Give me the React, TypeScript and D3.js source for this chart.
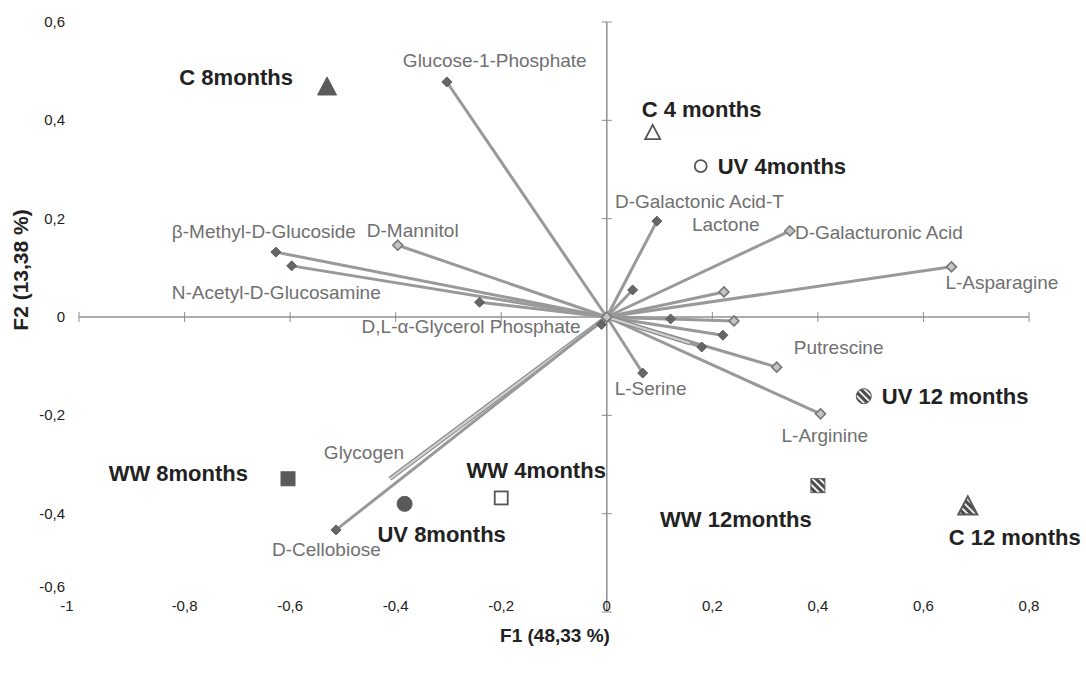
import React from "react";
import * as d3 from "d3";

// ---- data ----
const xTicks = [-1, -0.8, -0.6, -0.4, -0.2, 0, 0.2, 0.4, 0.6, 0.8];
const yTicks = [-0.6, -0.4, -0.2, 0, 0.2, 0.4, 0.6];

const varNames = [
  "Glucose-1-Phosphate",
  "β-Methyl-D-Glucoside",
  "N-Acetyl-D-Glucosamine",
  "D-Mannitol",
  "D,L-α-Glycerol Phosphate",
  "D-Galactonic Acid-T|Lactone",
  "D-Galacturonic Acid",
  "L-Asparagine",
  "Putrescine",
  "L-Arginine",
  "L-Serine",
  "Glycogen",
  "D-Cellobiose",
  "", "", "", "", "", "", "", "", "",
];
const varF1 = [-0.303, -0.627, -0.597, -0.396, -0.241, 0.095, 0.347, 0.653, 0.322, 0.405, 0.068, -0.411, -0.513, 0.049, 0.222, 0.121, 0.241, 0.22, 0.18, 0.0, -0.01, 0.157];
const varF2 = [0.478, 0.132, 0.104, 0.146, 0.03, 0.195, 0.175, 0.102, -0.102, -0.197, -0.114, -0.329, -0.433, 0.055, 0.051, -0.004, -0.008, -0.037, -0.061, 0.0, -0.015, -0.053];
const varKind = ["dark", "dark", "dark", "light", "dark", "dark", "light", "light", "light", "light", "dark", "none", "dark", "dark", "light", "dark", "light", "dark", "dark", "light", "dark", "none"];

const obsNames = ["C 8months", "C 4 months", "UV 4months", "UV 12 months", "C 12 months", "WW 12months", "WW 4months", "UV 8months", "WW 8months"];
const obsF1 = [-0.53, 0.087, 0.178, 0.487, 0.684, 0.4, -0.2, -0.383, -0.604];
const obsF2 = [0.467, 0.374, 0.307, -0.161, -0.386, -0.343, -0.368, -0.38, -0.329];
const obsShape = ["triangle", "triangle", "circle", "circle", "triangle", "square", "square", "circle", "square"];
const obsFill = ["solid", "open", "open", "hatch", "hatch", "hatch", "open", "solid", "solid"];

// ---- layout (label offsets, px) ----
const varLabelOffsets: [number, number][] = [
  [-44, -15], [-104, -14], [-120, 33], [-31, -8], [-118, 31], [-42, -13], [5, 8],
  [-6, 22], [17, -13], [-39, 28], [-28, 22], [-66, -20], [-64, 26],
];
const obsLabelLayout: { dx: number; dy: number; anchor: string }[] = [
  { dx: -34, dy: -2, anchor: "end" },
  { dx: -11, dy: -16, anchor: "start" },
  { dx: 17, dy: 8, anchor: "start" },
  { dx: 18, dy: 8, anchor: "start" },
  { dx: -19, dy: 38, anchor: "start" },
  { dx: -82, dy: 41, anchor: "middle" },
  { dx: 35, dy: -20, anchor: "middle" },
  { dx: 37, dy: 38, anchor: "middle" },
  { dx: -40, dy: 2, anchor: "end" },
];

const W = 1086;
const H = 675;
const x = d3.scaleLinear().domain([-1, 0.8]).range([79, 1029]);
const y = d3.scaleLinear().domain([-0.6, 0.6]).range([612, 22]);
const fmt = (v: number) => (Math.abs(v) < 1e-9 ? "0" : String(+v.toFixed(1)).replace(".", ","));

const axisColor = "#8f8f8f";
const labelFont = "Arial, 'Liberation Sans', sans-serif";

function Marker({ shape, fill, cx, cy }: { shape: string; fill: string; cx: number; cy: number }) {
  const f = fill === "solid" ? "#5a5a5a" : fill === "open" ? "#ffffff" : "url(#hatch)";
  const stroke = fill === "open" ? "#555" : "#5a5a5a";
  const sw = fill === "open" ? 1.8 : 1;
  if (shape === "triangle") {
    const s = fill === "open" ? 15 : 19;
    const p = d3.path();
    p.moveTo(cx, cy - s * 0.55);
    p.lineTo(cx + s / 2, cy + s * 0.4);
    p.lineTo(cx - s / 2, cy + s * 0.4);
    p.closePath();
    return <path d={p.toString()} fill={f} stroke={stroke} strokeWidth={fill === "hatch" ? 2 : sw} strokeLinejoin="miter" />;
  }
  if (shape === "circle") {
    const r = fill === "open" ? 6 : 7.5;
    return <circle cx={cx} cy={cy} r={r} fill={f} stroke={stroke} strokeWidth={sw} />;
  }
  const s = fill === "open" ? 13 : 14;
  return <rect x={cx - s / 2} y={cy - s / 2} width={s} height={s} fill={f} stroke={stroke} strokeWidth={sw} />;
}

export default function App() {
  const x0 = x(0);
  const y0 = y(0);
  return (
    <svg width={W} height={H} style={{ position: "absolute", left: 0, top: 0, background: "#fff" }} fontFamily={labelFont}>
      <defs>
        <pattern id="hatch" patternUnits="userSpaceOnUse" width="5" height="5" patternTransform="rotate(-45)">
          <rect width="5" height="5" fill="#4a4a4a" />
          <rect x="0" y="0" width="1.8" height="5" fill="#ffffff" />
        </pattern>
      </defs>

      {/* axes */}
      <line x1={x(-1)} x2={x(0.8)} y1={y0} y2={y0} stroke={axisColor} strokeWidth={1.5} />
      <line x1={x0} x2={x0} y1={y(0.6)} y2={y(-0.6)} stroke={axisColor} strokeWidth={1.5} />
      {xTicks.map((t) => (
        <line key={"xt" + t} x1={x(t)} x2={x(t)} y1={y0 - 5} y2={y0 + 5} stroke={axisColor} strokeWidth={1} />
      ))}
      {yTicks.map((t) => (
        <line key={"yt" + t} x1={x0 - 5} x2={x0 + 5} y1={y(t)} y2={y(t)} stroke={axisColor} strokeWidth={1} />
      ))}
      {yTicks.map((t, i) => (
        <text key={"yl" + t} x={65} y={y(t) + 5 + (i === 0 ? -25 : 0)} textAnchor="end" fontSize={15} fill="#222">
          {fmt(t)}
        </text>
      ))}
      {xTicks.map((t, i) => (
        <text key={"xl" + t} x={x(t) + (i === 0 ? -12 : 0)} y={611} textAnchor="middle" fontSize={15} fill="#222"
          fontFamily="'Liberation Sans Narrow', 'Arial Narrow', Arial, sans-serif">
          {fmt(t)}
        </text>
      ))}
      <text x={555} y={642} textAnchor="middle" fontSize={19} fontWeight="bold" fill="#222"
        fontFamily="'Liberation Sans Narrow', 'Arial Narrow', Arial, sans-serif">
        F1 (48,33 %)
      </text>
      <text transform={`translate(28, ${270}) rotate(-90)`} textAnchor="middle" fontSize={21} fontWeight="bold" fill="#222">
        F2 (13,38 %)
      </text>

      {/* vectors */}
      {varF1.map((v, i) => {
        const ex = x(v);
        const ey = y(varF2[i]);
        if (varKind[i] === "none") {
          return (
            <g key={"v" + i}>
              <line x1={x0} y1={y0} x2={ex} y2={ey} stroke="#8a8a8a" strokeWidth={4.5} />
              <line x1={x0} y1={y0} x2={ex} y2={ey} stroke="#d0d0d0" strokeWidth={2.2} />
            </g>
          );
        }
        return <line key={"v" + i} x1={x0} y1={y0} x2={ex} y2={ey} stroke="#999" strokeWidth={3} />;
      })}
      {varF1.map((v, i) => {
        const ex = x(v);
        const ey = y(varF2[i]);
        if (varKind[i] === "none") return null;
        const dark = varKind[i] === "dark";
        const s = 5;
        return (
          <path key={"m" + i}
            d={`M${ex},${ey - s}L${ex + s},${ey}L${ex},${ey + s}L${ex - s},${ey}Z`}
            fill={dark ? "#666" : "#c4c4c4"} stroke={dark ? "#5c5c5c" : "#777"} strokeWidth={dark ? 1 : 1.6} />
        );
      })}
      {varNames.map((n, i) => {
        if (!n) return null;
        const [dx, dy] = varLabelOffsets[i];
        const ex = x(varF1[i]) + dx;
        const ey = y(varF2[i]) + dy;
        const parts = n.split("|");
        if (parts.length > 1) {
          return (
            <text key={"vl" + i} fontSize={19} fill="#707070">
              <tspan x={ex} y={ey}>{parts[0]}</tspan>
              <tspan x={ex + 77} y={ey + 23}>{parts[1]}</tspan>
            </text>
          );
        }
        return (
          <text key={"vl" + i} x={ex} y={ey} fontSize={19} fill="#707070">
            {n}
          </text>
        );
      })}

      {/* observations */}
      {obsF1.map((v, i) => (
        <Marker key={"o" + i} shape={obsShape[i]} fill={obsFill[i]} cx={x(v)} cy={y(obsF2[i])} />
      ))}
      {obsNames.map((n, i) => {
        const l = obsLabelLayout[i];
        return (
          <text key={"ol" + i} x={x(obsF1[i]) + l.dx} y={y(obsF2[i]) + l.dy} textAnchor={l.anchor}
            fontSize={22} fontWeight="bold" fill="#222">
            {n}
          </text>
        );
      })}
    </svg>
  );
}
